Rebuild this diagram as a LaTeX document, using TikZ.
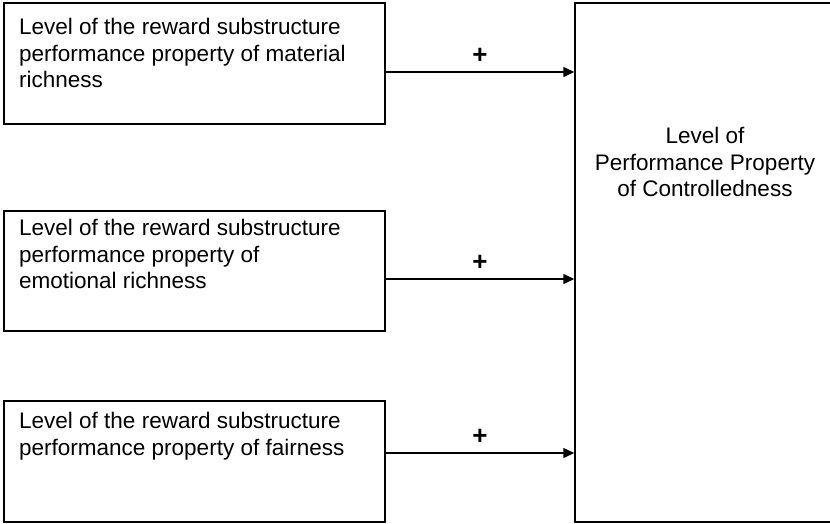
\documentclass[tikz,border=0pt]{standalone}
\usepackage{fontspec}
\setmainfont{Liberation Sans}
\usetikzlibrary{arrows.meta}

\tikzset{
  box/.style={draw, line width=1.5pt, rectangle, inner sep=0pt},
  boxtext/.style={inner sep=0pt, font=\fontsize{22.5}{26.5}\selectfont},
  link/.style={line width=1.5pt, -{Triangle[length=11pt,width=10pt]}},
  sign/.style={inner sep=0pt, font=\fontsize{26}{26}\selectfont\bfseries, yshift=16pt}
}

\begin{document}
\begin{tikzpicture}[x=1pt, y=-1pt]
  \useasboundingbox (0,0) rectangle (830,523);

  % input boxes
  \node[box, minimum width=381pt, minimum height=121pt] (b1) at (194.5,63.5) {};
  \node[box, minimum width=381pt, minimum height=120pt] (b2) at (194.5,271) {};
  \node[box, minimum width=381pt, minimum height=121pt] (b3) at (194.5,461.5) {};

  % output box (its right side runs past the page edge)
  \node[box, minimum width=272pt, minimum height=519pt] (out) at (711,262.5) {};

  % box texts
  \node[boxtext, anchor=north west, align=left] (t1) at (19,18)
    {Level of the reward substructure\\performance property of material\\richness};
  \node[boxtext, anchor=north west, align=left] (t2) at (19,219)
    {Level of the reward substructure\\performance property of\\emotional richness};
  \node[boxtext, anchor=north west, align=left] (t3) at (19,412)
    {Level of the reward substructure\\performance property of fairness};
  \node[boxtext, anchor=north, align=center] (tout) at (705,127)
    {Level of\\Performance Property\\of Controlledness};

  % positive influences
  \draw[link] ([yshift=-8.5pt]b1.east) -- ([yshift=-8.5pt]b1.east -| out.west)
    node[sign, midway] (p1) {+};
  \draw[link] ([yshift=-8pt]b2.east) -- ([yshift=-8pt]b2.east -| out.west)
    node[sign, midway] (p2) {+};
  \draw[link] ([yshift=8.5pt]b3.east) -- ([yshift=8.5pt]b3.east -| out.west)
    node[sign, midway] (p3) {+};
\end{tikzpicture}
\end{document}
